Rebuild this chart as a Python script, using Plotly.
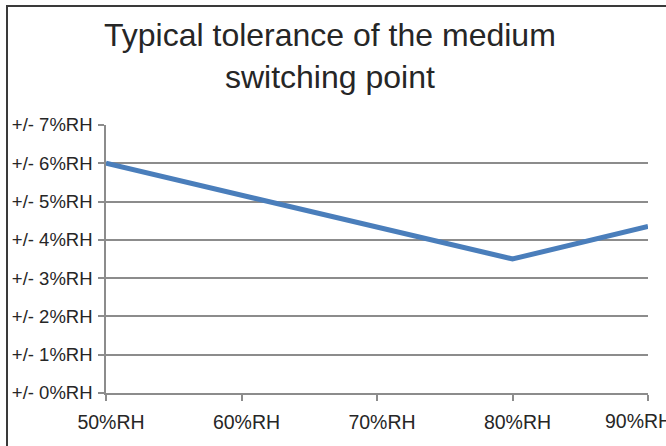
import plotly.graph_objects as go

# Humidity setpoints (%RH) and typical tolerance (+/- %RH)
humidity = [50, 80, 90]
tolerance = [6.0, 3.5, 4.35]

x_ticks = [50, 60, 70, 80, 90]
x_labels = ["50%RH", "60%RH", "70%RH", "80%RH", "90%RH"]
y_ticks = [0, 1, 2, 3, 4, 5, 6, 7]
y_labels = ["+/- 0%RH", "+/- 1%RH", "+/- 2%RH", "+/- 3%RH",
            "+/- 4%RH", "+/- 5%RH", "+/- 6%RH", "+/- 7%RH"]

FONT = "Liberation Sans, Arial, sans-serif"
TEXT = "#262626"
GRID = "#8c8c8c"

# plot area in pixels: left 106, right 648, top 125, bottom 393
PW, PH = 542, 268

fig = go.Figure()
fig.add_trace(go.Scatter(
    x=humidity, y=tolerance, mode="lines",
    line=dict(color="#4a7ebb", width=5),
    hoverinfo="skip", showlegend=False,
))

# last category label is pulled inward so it stays mostly on the page
axis_text = x_labels[:-1] + [""]

fig.update_layout(
    width=666, height=446,
    margin=dict(l=106, r=18, t=125, b=53),
    paper_bgcolor="white", plot_bgcolor="white",
    font=dict(family=FONT, color=TEXT, size=20),
    xaxis=dict(
        range=[50, 90], tickvals=x_ticks, ticktext=axis_text,
        showgrid=False, zeroline=False,
        showline=True, linecolor=GRID, linewidth=1.5,
        ticks="outside", ticklen=6, tickcolor=GRID, tickwidth=1.5,
        tickfont=dict(size=19.5, color=TEXT),
        ticklabelshift=5, ticklabelstandoff=5,
        ticklabeloverflow="allow", automargin=False,
    ),
    yaxis=dict(
        range=[0, 7], tickvals=y_ticks, ticktext=y_labels,
        showgrid=True, gridcolor=GRID, gridwidth=1.5, zeroline=False,
        showline=True, linecolor=GRID, linewidth=1.5,
        ticks="outside", ticklen=6, tickcolor=GRID, tickwidth=1.5,
        tickfont=dict(size=18.5, color=TEXT),
        ticklabelstandoff=2,
        automargin=False,
    ),
)

fig.add_annotation(
    text=x_labels[-1], xref="paper", yref="paper",
    x=(603 - 106) / PW, y=(393 - 421) / PH,
    xanchor="left", yanchor="middle", showarrow=False,
    font=dict(size=19.5, color=TEXT),
)

# Two-line chart title
fig.add_annotation(
    text="Typical tolerance of the medium<br>switching point",
    xref="paper", yref="paper",
    x=(330 - 106) / PW, y=1 + (125 - 56.5) / PH,
    xanchor="center", yanchor="middle",
    showarrow=False, align="center",
    font=dict(family=FONT, size=32, color=TEXT),
)

# Chart frame (extends past the right and bottom edges of the page)
fig.add_shape(
    type="rect", xref="paper", yref="paper",
    x0=(7 - 106) / PW, x1=1.2, y0=-0.4, y1=1 + (125 - 6) / PH,
    line=dict(color="#3a3a3a", width=2), fillcolor="rgba(0,0,0,0)",
    layer="below",
)

fig.write_html("out.html")
